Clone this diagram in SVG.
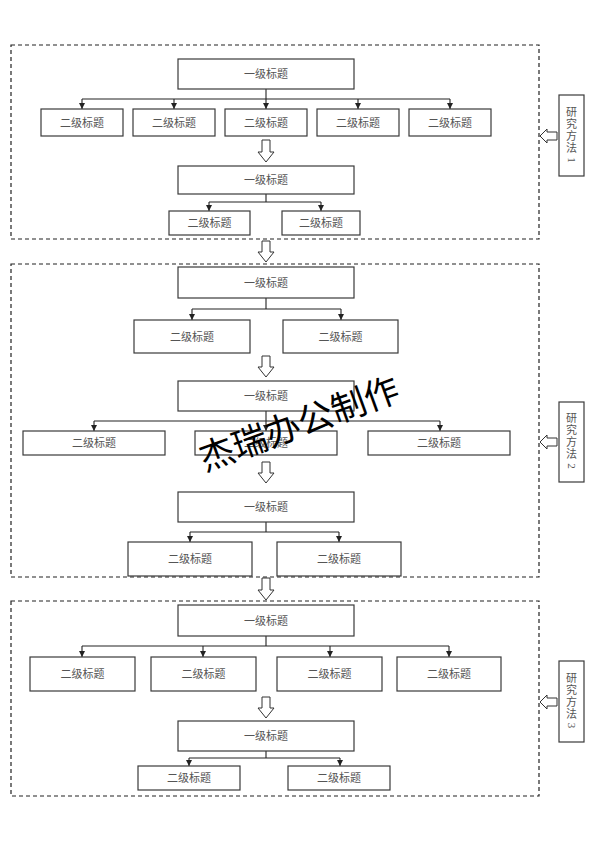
<svg xmlns="http://www.w3.org/2000/svg" width="594" height="841" viewBox="0 0 594 841">
<defs>
<style>
.bx{fill:#fff;stroke:#3a3a3a;stroke-width:1.2}
.sec{fill:none;stroke:#222;stroke-width:1.2;stroke-dasharray:4 3}
.t{font-family:"Liberation Serif","Noto Sans CJK SC",serif;font-size:11px;fill:#555;text-anchor:middle;dominant-baseline:central}
.ln{fill:none;stroke:#222;stroke-width:1.1}
.ar{fill:none;stroke:#222;stroke-width:1.1;marker-end:url(#ah)}
.ho{fill:#fff;stroke:#333;stroke-width:1}
.wm{font-family:"Noto Sans CJK SC",sans-serif;font-size:35px;fill:#000;text-anchor:middle;dominant-baseline:central}
</style>
<marker id="ah" markerUnits="userSpaceOnUse" markerWidth="7" markerHeight="7" refX="6" refY="3" orient="auto">
<path d="M0,0 L6,3 L0,6 Z" fill="#222"/>
</marker>
</defs>
<rect width="594" height="841" fill="#fff"/>

<g id="sections">
<rect class="sec" x="11" y="45" width="528" height="194"/>
<rect class="sec" x="11" y="264" width="528" height="313"/>
<rect class="sec" x="11" y="601" width="528" height="195"/>
</g>

<g id="connectors">
<path class="ln" d="M82,99 H450"/>
<path class="ar" d="M82,99 V109"/>
<path class="ar" d="M174,99 V109"/>
<path class="ar" d="M266,89 V109"/>
<path class="ar" d="M358,99 V109"/>
<path class="ar" d="M450,99 V109"/>
<path class="ln" d="M266,194 V202 M209,202 H321"/>
<path class="ar" d="M209,202 V211"/>
<path class="ar" d="M321,202 V211"/>
<path class="ln" d="M266,298 V309 M192,309 H341"/>
<path class="ar" d="M192,309 V320"/>
<path class="ar" d="M341,309 V320"/>
<path class="ln" d="M94,421 H440"/>
<path class="ar" d="M94,421 V431"/>
<path class="ar" d="M266,411 V431"/>
<path class="ar" d="M440,421 V431"/>
<path class="ln" d="M266,522 V532 M190,532 H339"/>
<path class="ar" d="M190,532 V542"/>
<path class="ar" d="M339,532 V542"/>
<path class="ln" d="M266,636 V646 M82,646 H449"/>
<path class="ar" d="M82,646 V657"/>
<path class="ar" d="M203,646 V657"/>
<path class="ar" d="M330,646 V657"/>
<path class="ar" d="M449,646 V657"/>
<path class="ln" d="M266,751 V758 M189,758 H340"/>
<path class="ar" d="M189,758 V766"/>
<path class="ar" d="M340,758 V766"/>
<path class="ho" d="M262,140 H270 V152 H274 L266,162 L258,152 H262 Z"/>
<path class="ho" d="M262,241 H270 V252 H274 L266,262 L258,252 H262 Z"/>
<path class="ho" d="M262,356 H270 V367 H274 L266,377 L258,367 H262 Z"/>
<path class="ho" d="M262,462 H270 V473 H274 L266,483 L258,473 H262 Z"/>
<path class="ho" d="M262,578 H270 V590 H274 L266,600 L258,590 H262 Z"/>
<path class="ho" d="M262,697 H270 V708 H274 L266,718 L258,708 H262 Z"/>
<path class="ho" d="M557,132 V140 H547 V143 L540,136 L547,129 V132 Z"/>
<path class="ho" d="M557,438 V446 H547 V449 L540,442 L547,435 V438 Z"/>
<path class="ho" d="M557,698 V706 H547 V709 L540,702 L547,695 V698 Z"/>
</g>

<g id="n1a"><rect class="bx" x="178" y="59" width="176" height="30"/><text class="t" x="266" y="74">一级标题</text></g>
<g id="n1b1"><rect class="bx" x="41" y="109" width="82" height="27"/><text class="t" x="82" y="122.5">二级标题</text></g>
<g id="n1b2"><rect class="bx" x="133" y="109" width="82" height="27"/><text class="t" x="174" y="122.5">二级标题</text></g>
<g id="n1b3"><rect class="bx" x="225" y="109" width="82" height="27"/><text class="t" x="266" y="122.5">二级标题</text></g>
<g id="n1b4"><rect class="bx" x="317" y="109" width="82" height="27"/><text class="t" x="358" y="122.5">二级标题</text></g>
<g id="n1b5"><rect class="bx" x="409" y="109" width="82" height="27"/><text class="t" x="450" y="122.5">二级标题</text></g>
<g id="n1c"><rect class="bx" x="178" y="166" width="176" height="28"/><text class="t" x="266" y="180">一级标题</text></g>
<g id="n1d1"><rect class="bx" x="169" y="211" width="81" height="24"/><text class="t" x="209.5" y="223">二级标题</text></g>
<g id="n1d2"><rect class="bx" x="282" y="211" width="78" height="24"/><text class="t" x="321" y="223">二级标题</text></g>
<g id="m1"><rect class="bx" x="559" y="95" width="25" height="81"/>
<text class="t" x="571.5" y="112">研</text><text class="t" x="571.5" y="124">究</text><text class="t" x="571.5" y="136">方</text><text class="t" x="571.5" y="148">法</text><text class="t" transform="translate(571.5,160) rotate(90)" x="0" y="0">1</text></g>

<g id="n2a"><rect class="bx" x="178" y="267" width="176" height="31"/><text class="t" x="266" y="282.5">一级标题</text></g>
<g id="n2b1"><rect class="bx" x="134" y="320" width="116" height="33"/><text class="t" x="192" y="336.5">二级标题</text></g>
<g id="n2b2"><rect class="bx" x="283" y="320" width="115" height="33"/><text class="t" x="340.5" y="336.5">二级标题</text></g>
<g id="n2c"><rect class="bx" x="178" y="381" width="176" height="30"/><text class="t" x="266" y="396">一级标题</text></g>
<g id="n2d1"><rect class="bx" x="23" y="431" width="142" height="24"/><text class="t" x="94" y="443">二级标题</text></g>
<g id="n2d2"><rect class="bx" x="195" y="431" width="142" height="24"/><text class="t" x="266" y="443">二级标题</text></g>
<g id="n2d3"><rect class="bx" x="368" y="431" width="142" height="24"/><text class="t" x="439" y="443">二级标题</text></g>
<g id="n2e"><rect class="bx" x="178" y="492" width="176" height="30"/><text class="t" x="266" y="507">一级标题</text></g>
<g id="n2f1"><rect class="bx" x="128" y="542" width="124" height="34"/><text class="t" x="190" y="559">二级标题</text></g>
<g id="n2f2"><rect class="bx" x="277" y="542" width="124" height="34"/><text class="t" x="339" y="559">二级标题</text></g>
<g id="m2"><rect class="bx" x="559" y="402" width="25" height="80"/>
<text class="t" x="571.5" y="418">研</text><text class="t" x="571.5" y="430">究</text><text class="t" x="571.5" y="442">方</text><text class="t" x="571.5" y="454">法</text><text class="t" transform="translate(571.5,466) rotate(90)" x="0" y="0">2</text></g>

<g id="n3a"><rect class="bx" x="178" y="605" width="176" height="31"/><text class="t" x="266" y="620.5">一级标题</text></g>
<g id="n3b1"><rect class="bx" x="30" y="657" width="105" height="34"/><text class="t" x="82.5" y="674">二级标题</text></g>
<g id="n3b2"><rect class="bx" x="151" y="657" width="105" height="34"/><text class="t" x="203.5" y="674">二级标题</text></g>
<g id="n3b3"><rect class="bx" x="277" y="657" width="105" height="34"/><text class="t" x="329.5" y="674">二级标题</text></g>
<g id="n3b4"><rect class="bx" x="397" y="657" width="104" height="34"/><text class="t" x="449" y="674">二级标题</text></g>
<g id="n3c"><rect class="bx" x="178" y="721" width="176" height="30"/><text class="t" x="266" y="736">一级标题</text></g>
<g id="n3d1"><rect class="bx" x="138" y="766" width="102" height="24"/><text class="t" x="189" y="778">二级标题</text></g>
<g id="n3d2"><rect class="bx" x="288" y="766" width="102" height="24"/><text class="t" x="339" y="778">二级标题</text></g>
<g id="m3"><rect class="bx" x="559" y="661" width="25" height="81"/>
<text class="t" x="571.5" y="677.5">研</text><text class="t" x="571.5" y="689.5">究</text><text class="t" x="571.5" y="701.5">方</text><text class="t" x="571.5" y="713.5">法</text><text class="t" transform="translate(571.5,725.5) rotate(90)" x="0" y="0">3</text></g>

<text class="wm" transform="translate(298,421) rotate(-20)" x="0" y="0">杰瑞办公制作</text>
</svg>
